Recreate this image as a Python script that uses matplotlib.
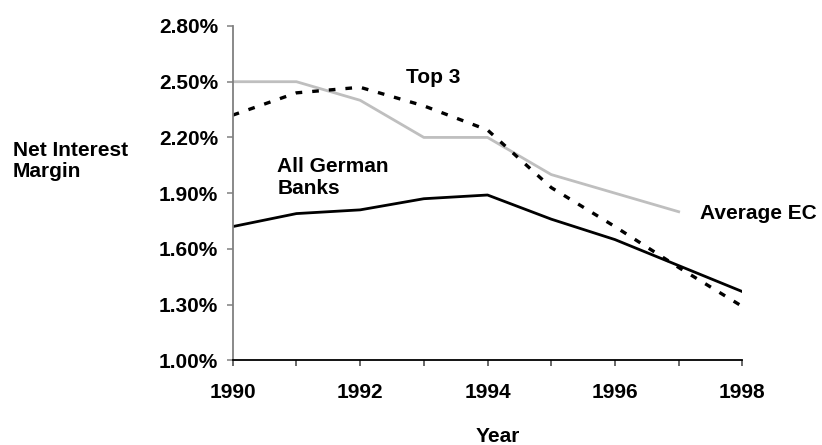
import matplotlib
matplotlib.use("Agg")
import matplotlib.pyplot as plt
import matplotlib.ticker as mticker

# data (net interest margin, %)
years = [1990, 1991, 1992, 1993, 1994, 1995, 1996, 1997, 1998]
all_german = [1.72, 1.79, 1.81, 1.87, 1.89, 1.76, 1.65, 1.51, 1.37]
top3 = [2.32, 2.44, 2.47, 2.37, 2.24, 1.93, 1.72, 1.50, 1.29]
ec_years = [1990, 1991, 1992, 1993, 1994, 1995, 1996, 1997]
average_ec = [2.50, 2.50, 2.40, 2.20, 2.20, 2.00, 1.90, 1.80]
yticks = [1.00, 1.30, 1.60, 1.90, 2.20, 2.50, 2.80]
xticks = [1990, 1992, 1994, 1996, 1998]

plt.rcParams['font.family'] = ['Liberation Sans', 'DejaVu Sans']
plt.rcParams['font.weight'] = 'bold'
fs = 15

fig = plt.figure(figsize=(8.22, 4.45), dpi=100, facecolor='white')
ax = fig.add_axes([0.2831, 0.1903, 0.62, 0.7513])

ax.plot(ec_years, average_ec, color='#bfbfbf', lw=2.0)
ax.plot(years, all_german, color='black', lw=2.0)
ax.plot(years, top3, color='black', lw=2.4, ls=(0, (2.0, 3.0)), dash_capstyle='butt')

ax.set_xlim(1990, 1998)
ax.set_ylim(1.0, 2.8)
ax.set_xticks(range(1990, 1999))
ax.set_xticklabels([str(y) if y in xticks else '' for y in range(1990, 1999)])
ax.set_yticks(yticks)
ax.yaxis.set_major_formatter(mticker.FuncFormatter(lambda v, p: f'{v:.2f}%'))

for s in ['top', 'right']:
    ax.spines[s].set_visible(False)
ax.spines['left'].set_color('#808080')
ax.spines['left'].set_linewidth(1.3)
ax.spines['bottom'].set_color('black')
ax.spines['bottom'].set_linewidth(1.3)
ax.tick_params(axis='y', direction='out', length=4.5, width=1.1, color='#808080',
               labelsize=fs, pad=6)
ax.tick_params(axis='x', direction='out', length=4.5, width=1.1, color='#404040',
               labelsize=fs, pad=12)
for lab in ax.get_xticklabels() + ax.get_yticklabels():
    lab.set_fontweight('bold')

ax.text(1992.72, 2.525, 'Top 3', fontsize=fs, fontweight='bold', va='center', ha='left')
ax.text(1990.70, 1.984, 'All German\nBanks', fontsize=fs, fontweight='bold',
        va='center', ha='left', linespacing=1.15)
ax.text(1997.34, 1.792, 'Average EC', fontsize=fs, fontweight='bold', va='center', ha='left')

fig.text(0.0158, 0.638, 'Net Interest\nMargin', fontsize=fs, fontweight='bold',
         va='center', ha='left', linespacing=1.15)
fig.text(0.606, 0.018, 'Year', fontsize=fs, fontweight='bold', va='center', ha='center')

fig.savefig('out.png', dpi=100, facecolor='white')
